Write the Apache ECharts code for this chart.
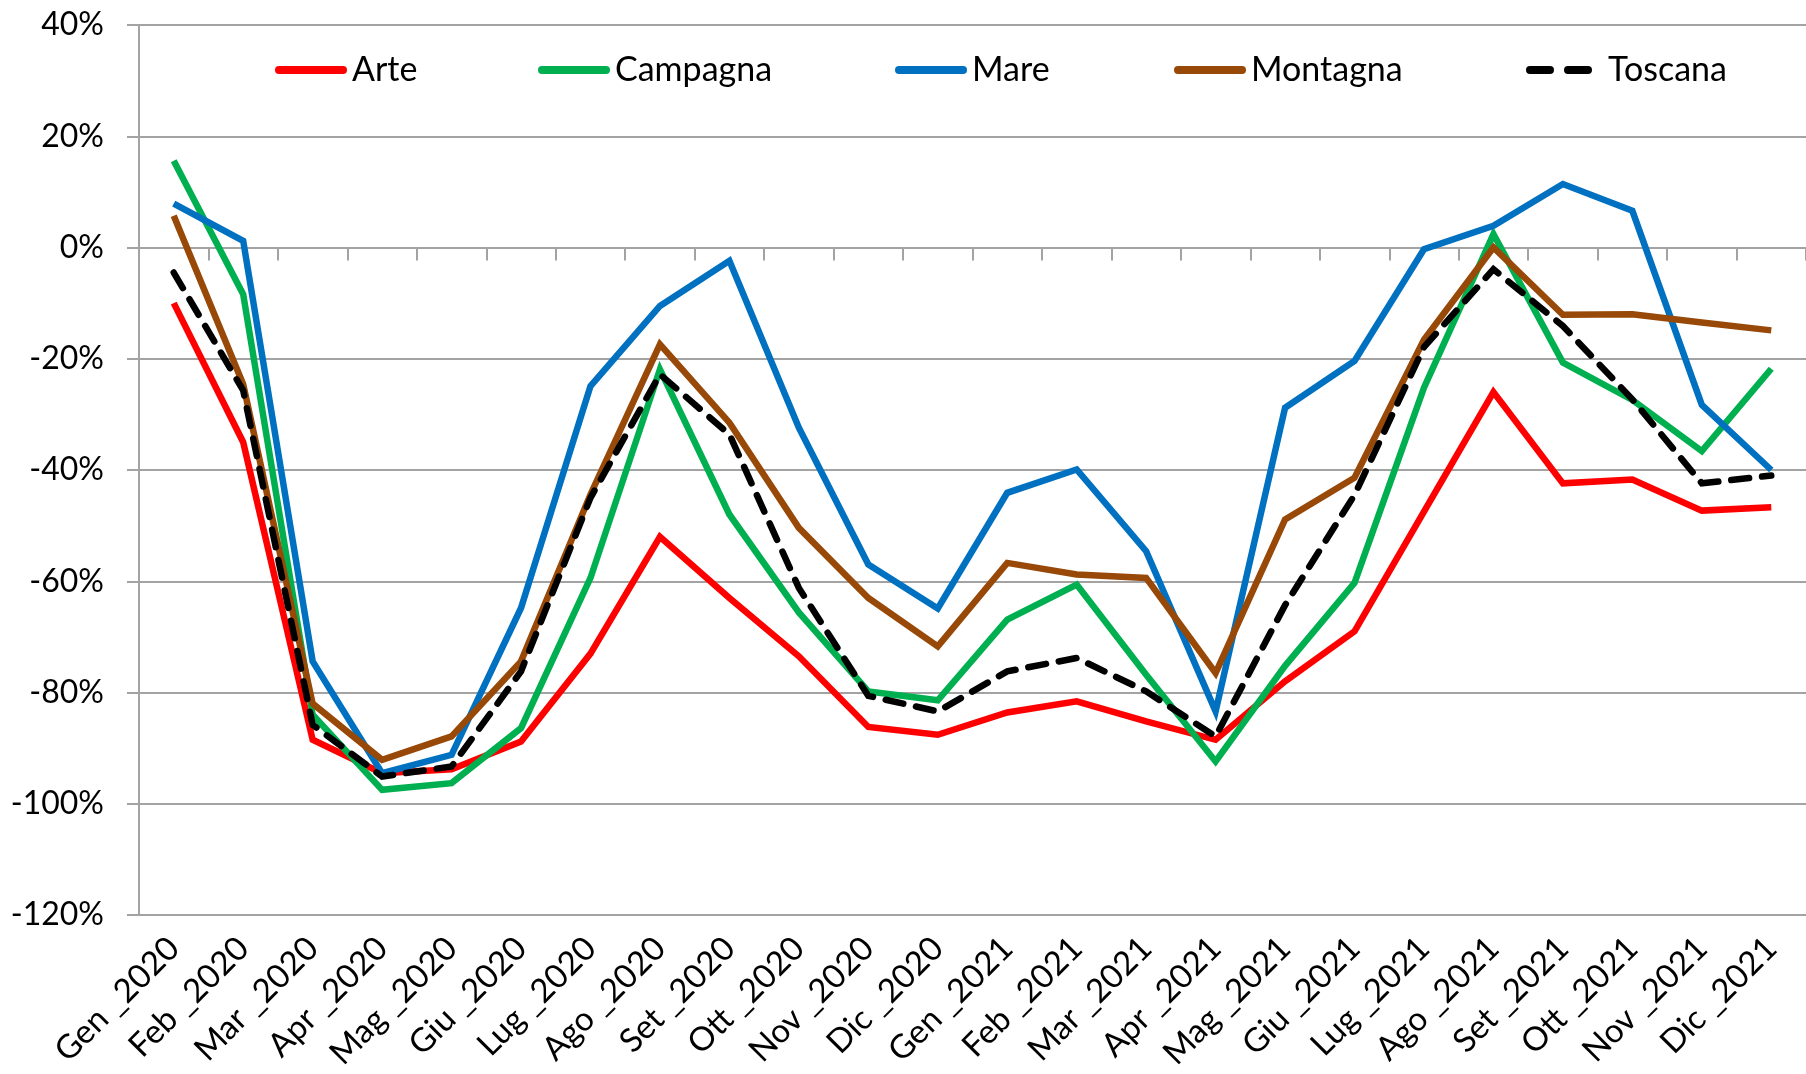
<!DOCTYPE html>
<html>
<head>
<meta charset="utf-8">
<title>Variazione mensile</title>
<script src="https://cdn.jsdelivr.net/npm/echarts@6/dist/echarts.min.js"></script>
<style>
    html, body { margin: 0; padding: 0; background: #fff; }
    #chart { width: 1806px; height: 1074px; }
</style>
</head>
<body>
<div id="chart"></div>
<script>
// categorie (mesi)
const mesi = [
    "Gen _2020", "Feb _2020", "Mar _2020", "Apr _2020", "Mag _2020", "Giu _2020",
    "Lug _2020", "Ago _2020", "Set _2020", "Ott _2020", "Nov _2020", "Dic _2020",
    "Gen _2021", "Feb _2021", "Mar _2021", "Apr _2021", "Mag _2021", "Giu _2021",
    "Lug _2021", "Ago _2021", "Set _2021", "Ott _2021", "Nov _2021", "Dic _2021"
];

// valori in %
const arte = [-10, -35, -88.5, -94.5, -93.8, -88.8, -73, -52, -63, -73.5, -86.2, -87.6,
    -83.6, -81.6, -85.2, -88.5, -78, -69, -47.5, -26, -42.4, -41.7, -47.3, -46.7];
const campagna = [15.6, -8.4, -84, -97.5, -96.3, -86.4, -59.4, -21.9, -48, -65.6, -79.8, -81.4,
    -66.9, -60.6, -76.8, -92.4, -75.2, -60.3, -25.2, 2.4, -20.7, -27.4, -36.6, -21.8];
const mare = [7.9, 1.2, -74.4, -94.5, -91.2, -64.8, -24.9, -10.5, -2.4, -32.4, -57, -64.9,
    -44.1, -39.9, -54.6, -83.4, -28.8, -20.4, -0.3, 3.9, 11.4, 6.6, -28.3, -40];
const montagna = [5.7, -24.6, -82, -92.1, -87.9, -74.4, -44.4, -17.4, -31.5, -50.4, -63, -71.7,
    -56.7, -58.8, -59.4, -76.5, -48.9, -41.4, -16.6, 0, -12.1, -12, -13.5, -14.9];
const toscana = [-4.5, -25.7, -85.8, -95.1, -93.3, -76.2, -45, -22.8, -33.6, -61.2, -80.6, -83.4,
    -76.2, -73.8, -79.8, -87.9, -64.3, -44.5, -17.9, -3.9, -14.1, -27.3, -42.4, -41];

// tick asse y
const yMin = -120;
const yMax = 40;
const yStep = 20;

const FONT = "Lato";
const GRID_COLOR = "#a3a3a3";

// icone legenda: tratto pieno e due trattini, con estremi arrotondati
const ICON_SOLID = "path://M4,0 H68 A4,4 0 0 1 68,8 H4 A4,4 0 0 1 4,0 Z";
const ICON_DASH = "path://M4,0 H24 A4,4 0 0 1 24,8 H4 A4,4 0 0 1 4,0 Z M42,0 H62 A4,4 0 0 1 62,8 H42 A4,4 0 0 1 42,0 Z";

/**
 * @description serie a linea
 */
function lineSeries(name, data, color, dashed) {
    return {
        name: name,
        type: "line",
        data: data,
        symbol: "none",
        xAxisIndex: 0,
        color: color,
        lineStyle: {
            color: color,
            width: 6.5,
            type: dashed ? [18, 13] : "solid",
            cap: dashed ? "round" : "butt",
            join: "miter"
        },
        animation: false
    };
}

/**
 * @description legenda di una sola voce, posizionata a mano
 */
function legendItem(name, left, dashed) {
    return {
        data: [{ name: name, icon: dashed ? ICON_DASH : ICON_SOLID }],
        left: left,
        top: 48,
        itemWidth: dashed ? 68 : 72,
        itemHeight: 8,
        textStyle: {
            fontFamily: FONT,
            fontSize: 34,
            color: "#000",
            padding: dashed ? [0, 0, 0, 10] : 0
        },
        selectedMode: false
    };
}

const chart = echarts.init(document.getElementById("chart"));

const option = {
    backgroundColor: "#fff",
    animation: false,
    grid: { left: 139, right: 0, top: 25, bottom: 159, containLabel: false },
    legend: [
        legendItem("Arte", 270),
        legendItem("Campagna", 533),
        legendItem("Mare", 890),
        legendItem("Montagna", 1169),
        legendItem("Toscana", 1521, true)
    ],
    xAxis: [
        {
            // asse delle etichette, in basso
            type: "category",
            data: mesi,
            boundaryGap: true,
            axisLine: { show: false, onZero: false },
            axisTick: { show: false },
            axisLabel: {
                rotate: 45,
                margin: 28,
                interval: 0,
                fontFamily: FONT,
                fontSize: 33,
                color: "#000"
            }
        },
        {
            // linea dello zero con le tacche
            type: "category",
            data: mesi,
            boundaryGap: true,
            position: "bottom",
            axisLine: { show: true, onZero: true, lineStyle: { color: GRID_COLOR, width: 2 } },
            axisTick: { show: true, length: 13, interval: 0, lineStyle: { color: GRID_COLOR, width: 2 } },
            axisLabel: { show: false }
        }
    ],
    yAxis: {
        type: "value",
        min: yMin,
        max: yMax,
        interval: yStep,
        axisLine: { show: true, lineStyle: { color: GRID_COLOR, width: 2 } },
        axisTick: { show: true, length: 12, lineStyle: { color: GRID_COLOR, width: 2 } },
        splitLine: { show: true, lineStyle: { color: GRID_COLOR, width: 2 } },
        axisLabel: {
            formatter: "{value}%",
            margin: 35,
            fontFamily: FONT,
            fontSize: 32,
            color: "#000"
        }
    },
    series: [
        lineSeries("Arte", arte, "#ff0000"),
        lineSeries("Campagna", campagna, "#00b050"),
        lineSeries("Mare", mare, "#0070c0"),
        lineSeries("Montagna", montagna, "#984807"),
        lineSeries("Toscana", toscana, "#000000", true)
    ]
};

chart.setOption(option);
</script>
</body>
</html>
